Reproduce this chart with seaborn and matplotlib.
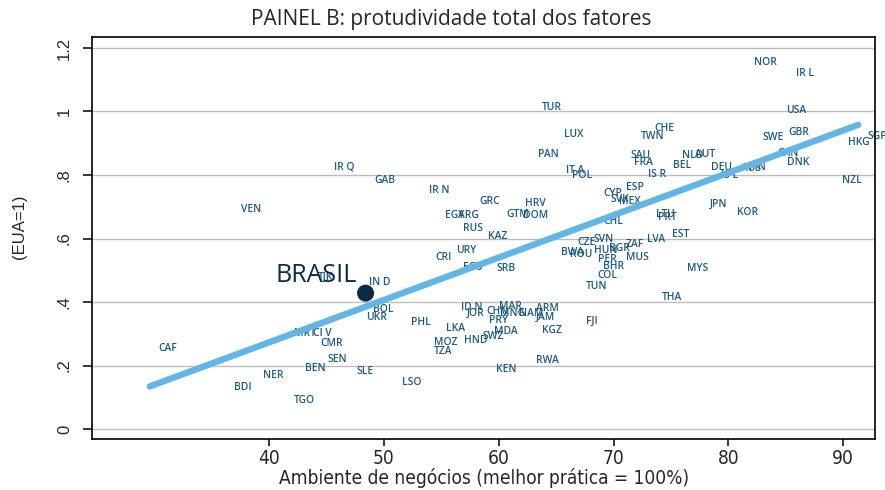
import numpy as np
import pandas as pd
import matplotlib
matplotlib.use("Agg")
import matplotlib.pyplot as plt
from matplotlib import font_manager
import seaborn as sns

# Country codes as printed on the chart
countries = [
    "NOR", "IR L", "TUR", "USA", "LUX", "CHE", "TWN", "GBR", "SWE", "HKG", "SGP",
    "PAN", "SAU", "FRA", "NLD", "AUT", "BEL", "CAN", "DNK", "DEU", "AUS", "FIN",
    "IS L", "IT A", "POL", "IS R", "NZL", "ESP", "CYP", "SVK", "MEX", "GRC", "HRV",
    "GTM", "DOM", "JPN", "KOR", "LTU", "PRT", "CHL", "KAZ", "EST", "LVA", "SVN",
    "CZE", "ZAF", "BGR", "HUN", "BWA", "ROU", "PER", "MUS", "SRB", "BHR", "MYS",
    "COL", "TUN", "THA", "IR Q", "GAB", "IR N", "VEN", "EGY", "ARG", "RUS", "URY",
    "CRI", "ECU", "TJK", "IN D", "BOL", "UKR", "PHL", "ID N", "JOR", "CHN", "MNG",
    "NAM", "MAR", "ARM", "PRY", "JAM", "FJI", "MDA", "KGZ", "SWZ", "HND", "MOZ",
    "TZA", "LKA", "MRT", "CI V", "CMR", "CAF", "SEN", "BEN", "SLE", "NER", "BDI",
    "LSO", "TGO", "RWA", "KEN",
]

# Business environment score (best practice = 100%)
business_env = [
    81.4, 85.1, 63.0, 84.2, 64.9, 72.8, 71.6, 84.4, 82.2, 89.6, 91.3,
    62.6, 70.7, 71.0, 75.2, 76.3, 74.4, 83.5, 84.3, 77.7, 80.3, 81.0,
    78.6, 65.1, 65.6, 72.2, 89.1, 70.3, 68.3, 68.9, 69.7, 57.5, 61.5,
    59.9, 61.3, 77.6, 80.0, 72.9, 73.1, 68.3, 58.3, 74.3, 72.1, 67.5,
    66.1, 70.3, 68.8, 67.5, 64.6, 65.4, 67.9, 70.3, 59.0, 68.3, 75.6,
    67.8, 66.8, 73.4, 44.9, 48.4, 53.1, 36.8, 54.5, 55.7, 56.1, 55.5,
    53.7, 56.1, 43.5, 47.9, 48.3, 47.7, 51.6, 55.9, 56.4, 58.1, 59.3,
    61.0, 59.2, 62.5, 58.4, 62.4, 66.8, 58.8, 63.0, 57.8, 56.2, 53.6,
    53.6, 54.6, 41.4, 43.0, 43.7, 29.6, 44.3, 42.3, 46.8, 38.7, 36.2,
    50.8, 41.4, 62.5, 59.0,
]

# Total factor productivity (USA = 1)
tfp = [
    1.153, 1.121, 1.014, 1.002, 0.929, 0.945, 0.920, 0.935, 0.917, 0.901, 0.920,
    0.866, 0.860, 0.838, 0.860, 0.863, 0.831, 0.869, 0.838, 0.825, 0.822, 0.825,
    0.797, 0.813, 0.800, 0.803, 0.784, 0.762, 0.743, 0.724, 0.718, 0.715, 0.709,
    0.677, 0.671, 0.709, 0.683, 0.677, 0.665, 0.652, 0.605, 0.614, 0.598, 0.598,
    0.589, 0.580, 0.567, 0.561, 0.557, 0.551, 0.535, 0.539, 0.507, 0.513, 0.504,
    0.482, 0.450, 0.413, 0.825, 0.784, 0.750, 0.690, 0.674, 0.674, 0.630, 0.561,
    0.539, 0.510, 0.479, 0.460, 0.378, 0.350, 0.334, 0.384, 0.365, 0.369, 0.365,
    0.365, 0.387, 0.381, 0.343, 0.353, 0.340, 0.306, 0.309, 0.290, 0.280, 0.274,
    0.243, 0.318, 0.302, 0.302, 0.268, 0.255, 0.220, 0.192, 0.180, 0.170, 0.132,
    0.148, 0.091, 0.217, 0.189,
]

# Brazil, highlighted
brazil_label = "BRASIL"
brazil_env = [48.4]
brazil_tfp = [0.428]

# Linear fit of TFP on business environment
fit_intercept = -0.2610
fit_slope = 0.01335

y_ticks = [0, 0.2, 0.4, 0.6, 0.8, 1.0, 1.2]
y_tick_labels = ["0", ".2", ".4", ".6", ".8", "1", "1.2"]
x_ticks = [40, 50, 60, 70, 80, 90]

df = pd.DataFrame({"pais": countries, "ambiente": business_env, "ptf": tfp})
fit_x = np.array([df["ambiente"].min(), df["ambiente"].max()])
fit_df = pd.DataFrame({"ambiente": fit_x, "ptf": fit_intercept + fit_slope * fit_x})
br_df = pd.DataFrame({"ambiente": brazil_env, "ptf": brazil_tfp})

sns.set_theme(style="white")
plt.rcParams["font.family"] = ["Open Sans", "DejaVu Sans"]

# Narrow face for the horizontal axis texts
narrow = font_manager.FontProperties(family="DejaVu Sans", stretch="condensed", size=13.7)

fig = plt.figure(figsize=(8.85, 4.9), dpi=100)
ax = fig.add_axes([0.104, 0.104, 0.885, 0.8205])

label_color = "#1f5a7c"
for _, r in df.iterrows():
    ax.annotate(r["pais"], (r["ambiente"], r["ptf"]), xytext=(6.5, 0),
                textcoords="offset points", ha="left", va="center",
                fontsize=7.4, fontweight="semibold", color=label_color, zorder=2)

sns.lineplot(data=fit_df, x="ambiente", y="ptf", ax=ax, color="#62b5e5",
             linewidth=4.6, solid_capstyle="round", zorder=3)

sns.scatterplot(data=br_df, x="ambiente", y="ptf", ax=ax, color="#0b2b45",
                s=150, edgecolor="none", zorder=4)
ax.annotate(brazil_label, (brazil_env[0], brazil_tfp[0]), xytext=(-6.0, 12.5),
            textcoords="offset points", ha="right", va="center",
            fontsize=18, color="#0b2b45", zorder=4)

ax.set_xlim(24.58, 92.79)
ax.set_ylim(-0.0315, 1.2346)
ax.set_yticks(y_ticks)
ax.set_yticklabels(y_tick_labels, rotation=90, va="center",
                   family=["Liberation Sans", "DejaVu Sans"], fontsize=12)
ax.set_xticks(x_ticks)
ax.set_xticklabels([str(v) for v in x_ticks], fontproperties=narrow)
ax.tick_params(axis="both", direction="out", width=1.1, color="black")
ax.tick_params(axis="y", length=6.5, pad=8, left=True)
ax.tick_params(axis="x", length=5, pad=2, bottom=True)

for v in y_ticks:
    ax.axhline(v, color="#bdbdbd", linewidth=1.0, zorder=0)

for s in ax.spines.values():
    s.set_color("black")
    s.set_linewidth(1.2)

ax.set_xlabel("Ambiente de negócios (melhor prática = 100%)",
              fontproperties=narrow, labelpad=0)
ax.set_ylabel("")
fig.text(20 / 885, 1 - 227 / 490, "(EUA=1)", rotation=90, ha="center", va="center",
         family=["Liberation Sans", "DejaVu Sans"], fontsize=12)
fig.text(451 / 885, 1 - 19 / 490, "PAINEL B: protudividade total dos fatores",
         ha="center", va="center", fontsize=15)

fig.savefig("out.png", dpi=100)
